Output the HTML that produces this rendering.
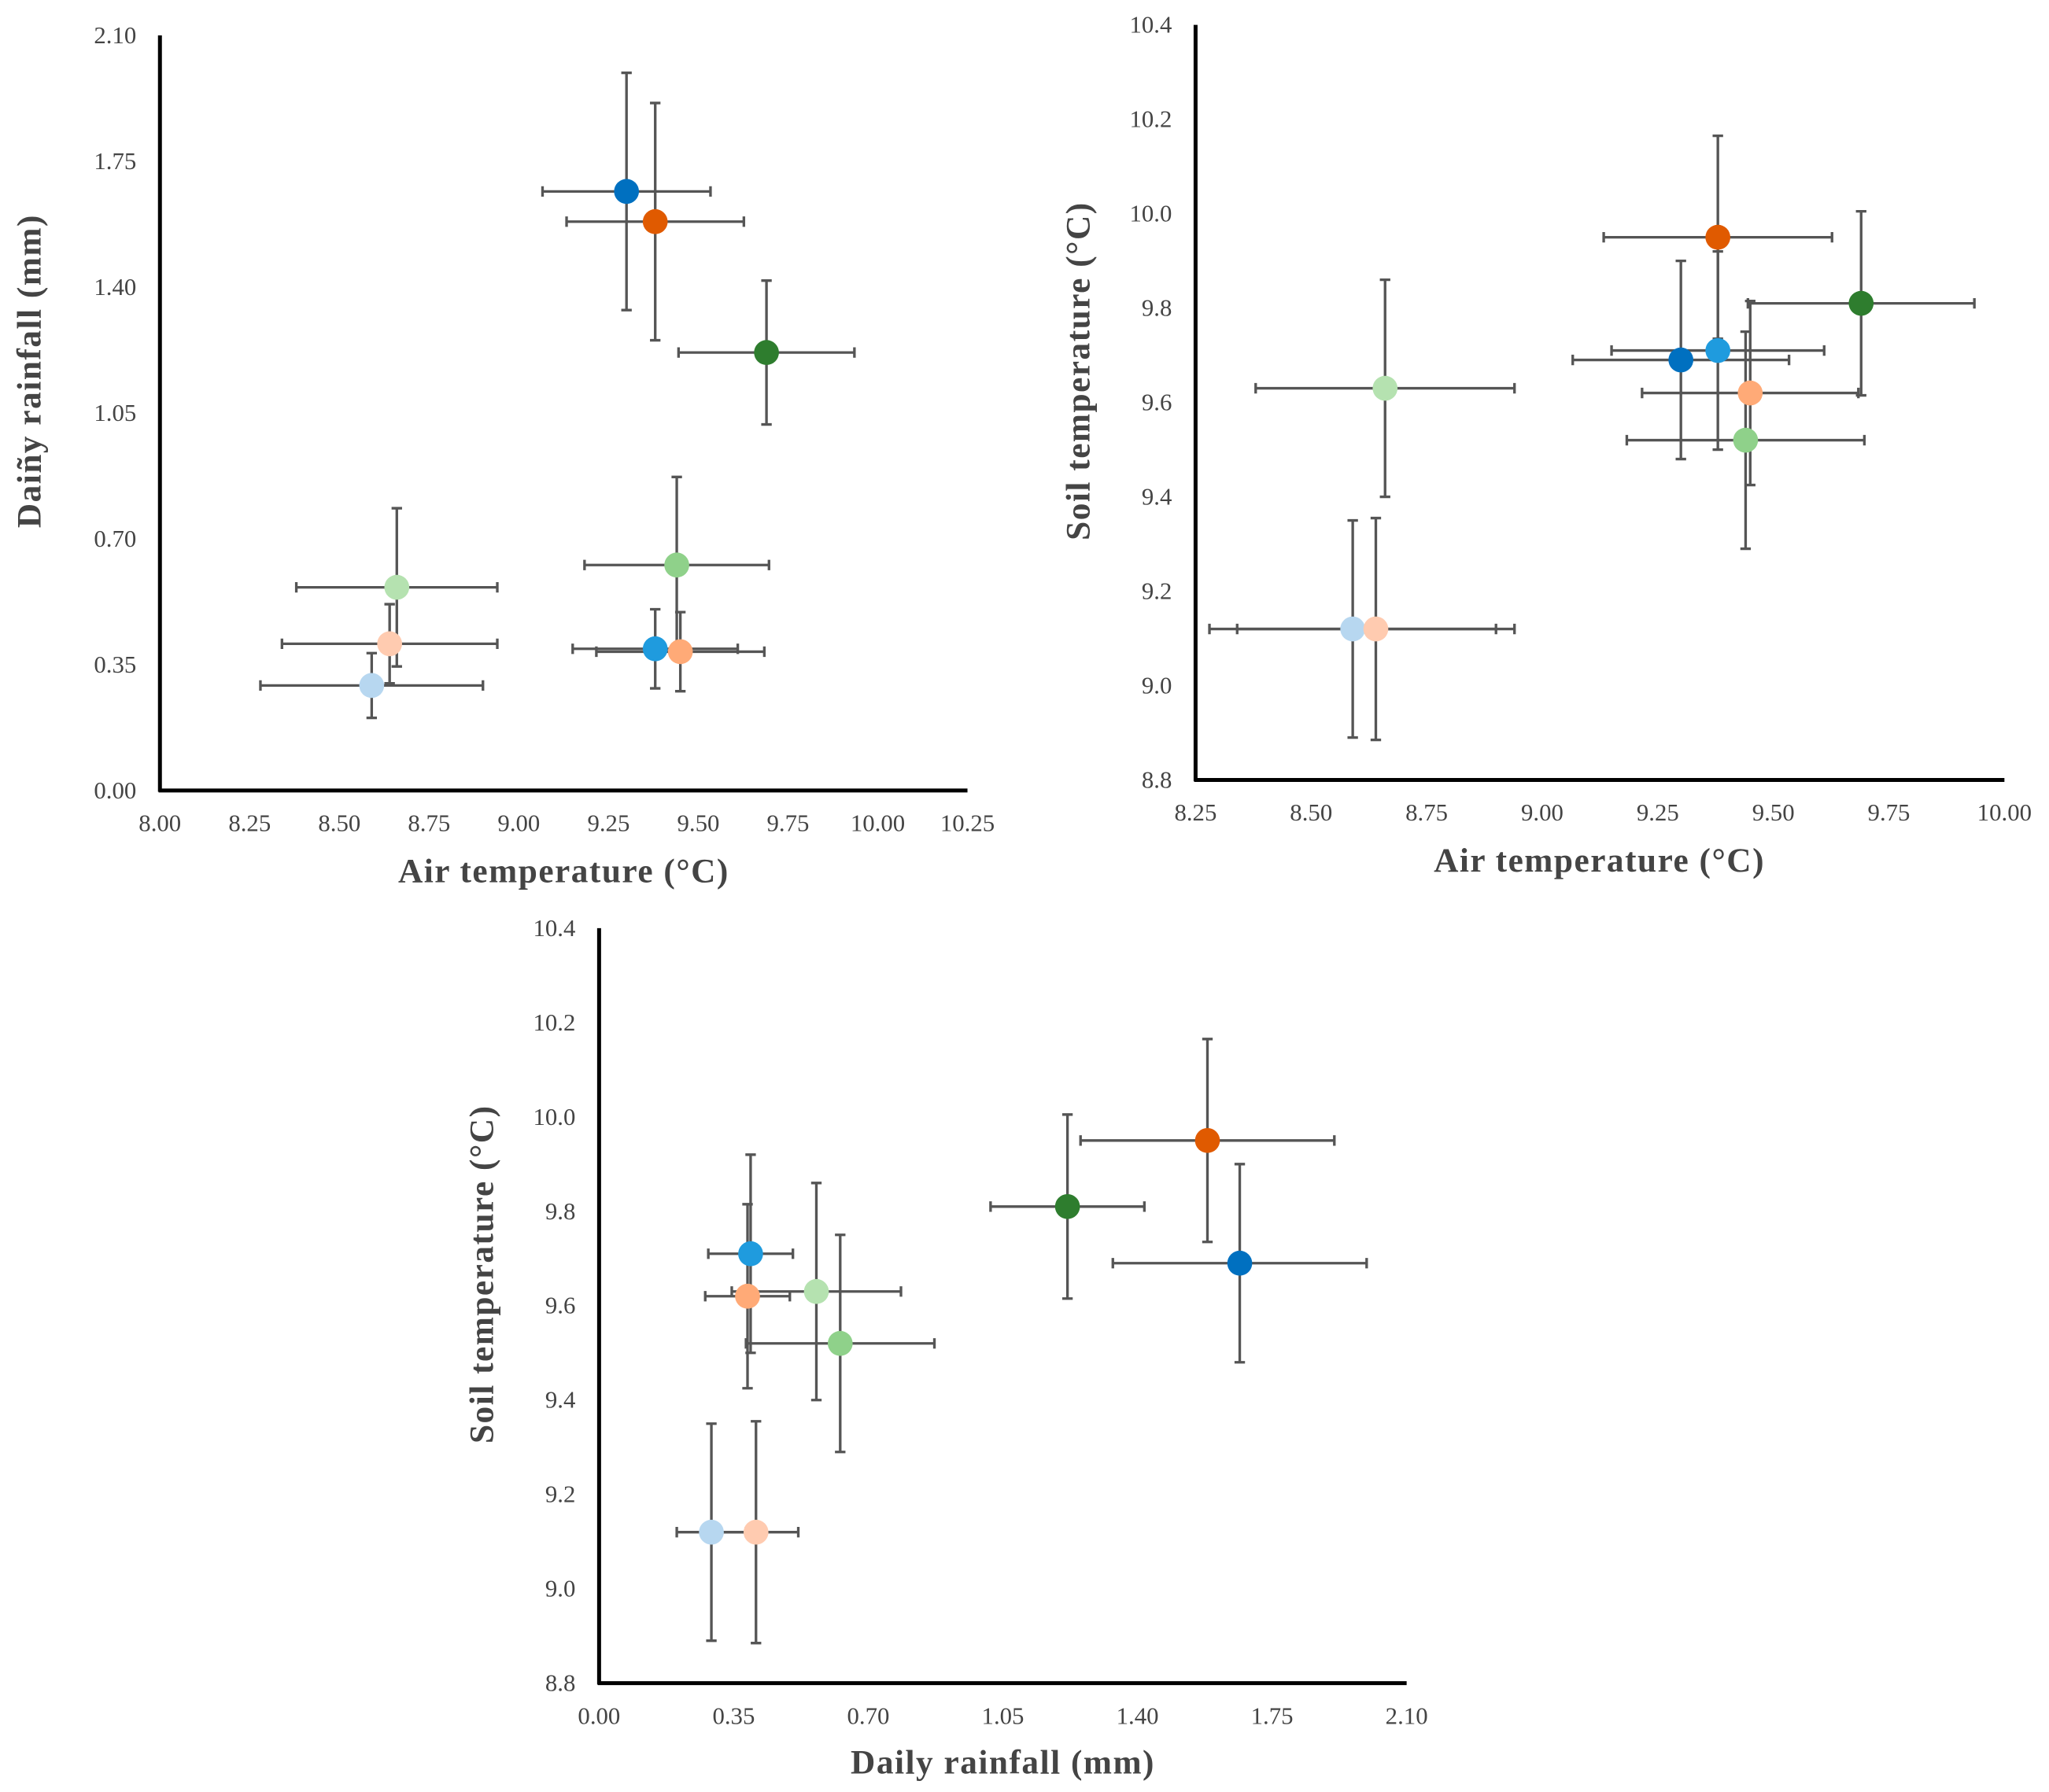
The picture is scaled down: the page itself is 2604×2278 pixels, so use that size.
<!DOCTYPE html>
<html><head><meta charset="utf-8"><style>
html,body{margin:0;padding:0;background:#fff}
svg{display:block}
text{font-family:"Liberation Serif",serif;fill:#444}
.tick{font-size:18.5px}
.title{font-size:26px;font-weight:bold;letter-spacing:0.9px}
</style></head><body>
<svg id="fig" width="2604" height="2278" viewBox="0 0 1563 1367" preserveAspectRatio="none" xmlns="http://www.w3.org/2000/svg"></svg>
<script>
// Series data (9 groups)
const seriesNames = ["dark-blue","dark-orange","dark-green","pale-green","mid-green","pale-blue","peach","blue","light-orange"];
const colors = ["#0070C0","#E05A00","#2E7D2E","#B5E2B0","#8FD18A","#B7D7F0","#FFCBB0","#1F9BDE","#FFAA77"];
const airTemp = [9.30,9.38,9.69,8.66,9.44,8.59,8.64,9.38,9.45];
const airErr = [0.234,0.247,0.245,0.28,0.257,0.31,0.30,0.23,0.234];
const rainfall = [1.666,1.582,1.218,0.565,0.627,0.292,0.408,0.394,0.386];
const rainErr = [0.33,0.33,0.20,0.22,0.245,0.09,0.11,0.11,0.11];
const soilTemp = [9.69,9.95,9.81,9.63,9.52,9.12,9.12,9.71,9.62];
const soilErr = [0.21,0.215,0.195,0.23,0.23,0.23,0.235,0.21,0.195];
const airTicks = ["8.00","8.25","8.50","8.75","9.00","9.25","9.50","9.75","10.00","10.25"];
const airTicks2 = ["8.25","8.50","8.75","9.00","9.25","9.50","9.75","10.00"];
const rainTicks = ["0.00","0.35","0.70","1.05","1.40","1.75","2.10"];
const soilTicks = ["8.8","9.0","9.2","9.4","9.6","9.8","10.0","10.2","10.4"];

const NS="http://www.w3.org/2000/svg";
const svg=document.getElementById('fig');
function mk(tag,attrs,parent){const e=document.createElementNS(NS,tag);for(const k in attrs)e.setAttribute(k,attrs[k]);(parent||svg).appendChild(e);return e;}

const charts=[
 {name:"air-vs-rainfall",x0:122,x1:738,y0:603,y1:27,xmin:8,xmax:10.25,ymin:0,ymax:2.1,
  xs:airTemp,xe:airErr,ys:rainfall,ye:rainErr,xt:airTicks,yt:rainTicks,
  xtitle:"Air temperature (°C)",ytitle:"Daiñy rainfall (mm)",xtx:430,xty:673,ytx:31,yty:283},
 {name:"air-vs-soil",x0:912,x1:1529,y0:595,y1:19,xmin:8.25,xmax:10,ymin:8.8,ymax:10.4,
  xs:airTemp,xe:airErr,ys:soilTemp,ye:soilErr,xt:airTicks2,yt:soilTicks,
  xtitle:"Air temperature (°C)",ytitle:"Soil temperature (°C)",xtx:1220,xty:665,ytx:831,yty:283},
 {name:"rainfall-vs-soil",x0:457,x1:1073,y0:1284,y1:708,xmin:0,xmax:2.1,ymin:8.8,ymax:10.4,
  xs:rainfall,xe:rainErr,ys:soilTemp,ye:soilErr,xt:rainTicks,yt:soilTicks,
  xtitle:"Daily rainfall (mm)",ytitle:"Soil temperature (°C)",xtx:765,xty:1353,ytx:376,yty:972}
];

charts.forEach(c=>{
 const g=mk('g',{});
 
 
 const X=v=>c.x0+(v-c.xmin)/(c.xmax-c.xmin)*(c.x1-c.x0);
 const Y=v=>c.y0-(v-c.ymin)/(c.ymax-c.ymin)*(c.y0-c.y1);
 const ya=mk('line',{x1:c.x0,y1:c.y1,x2:c.x0,y2:c.y0+1,stroke:'#000','stroke-width':3},g);
 
 
 const xa=mk('line',{x1:c.x0-1,y1:c.y0,x2:c.x1,y2:c.y0,stroke:'#000','stroke-width':3},g);
 
 
 c.xt.forEach(t=>{
  const e=mk('text',{x:X(parseFloat(t)),y:c.y0+31,'text-anchor':'middle',class:'tick'},g);
  e.textContent=t;
  
  
 });
 c.yt.forEach(t=>{
  const e=mk('text',{x:c.x0-18,y:Y(parseFloat(t))+6,'text-anchor':'end',class:'tick'},g);
  e.textContent=t;
  
  
 });
 const xt=mk('text',{x:c.xtx,y:c.xty,'text-anchor':'middle',class:'title'},g);
 xt.textContent=c.xtitle;
 
 
 const yt=mk('text',{x:c.ytx,y:c.yty,'text-anchor':'middle',class:'title',transform:`rotate(-90 ${c.ytx} ${c.yty})`},g);
 yt.textContent=c.ytitle;
 
 
 for(let i=0;i<c.xs.length;i++){
  const cx=X(c.xs[i]),cy=Y(c.ys[i]);
  const xl=X(c.xs[i]-c.xe[i]),xr=X(c.xs[i]+c.xe[i]);
  const yb=Y(c.ys[i]-c.ye[i]),ytop=Y(c.ys[i]+c.ye[i]);
  const eb=mk('path',{d:`M${xl},${cy}H${xr}M${xl},${cy-4}V${cy+4}M${xr},${cy-4}V${cy+4}M${cx},${ytop}V${yb}M${cx-4},${ytop}H${cx+4}M${cx-4},${yb}H${cx+4}`,stroke:'#555','stroke-width':2,fill:'none'},g);
  
  
 }
 for(let i=0;i<c.xs.length;i++){
  const p=mk('circle',{cx:X(c.xs[i]),cy:Y(c.ys[i]),r:9.5,fill:colors[i]},g);
  
  
 }
});
</script>
</body></html>
